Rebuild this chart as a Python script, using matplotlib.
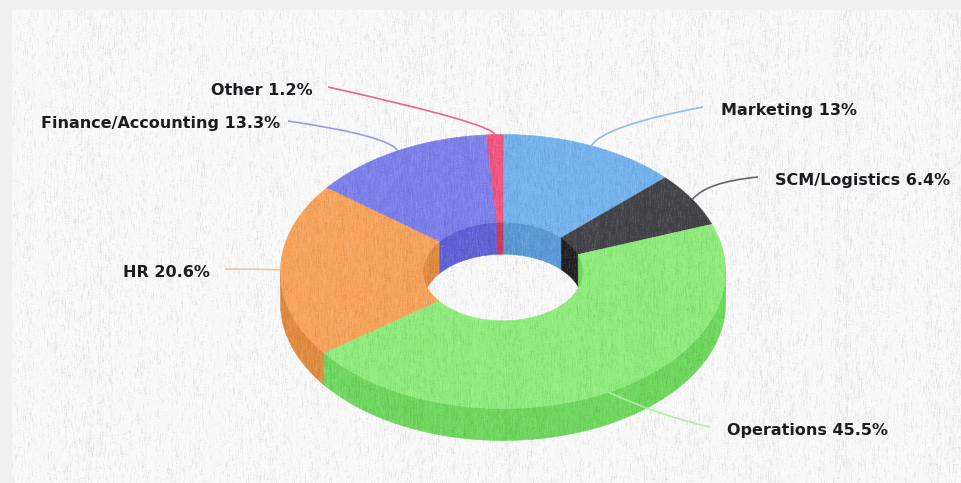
import numpy as np
import matplotlib
matplotlib.use("Agg")
import matplotlib.pyplot as plt
from matplotlib.patches import PathPatch, Rectangle
from matplotlib.path import Path

# Job function split
names = ["Marketing", "SCM/Logistics", "Operations", "HR", "Finance/Accounting", "Other"]
shares = [13, 6.4, 45.5, 20.6, 13.3, 1.2]

top_colors = ["#74b3ee", "#434348", "#8fec7c", "#f7a35c", "#7c80ea", "#f2557f"]
wall_colors = ["#5b9ad6", "#202024", "#6fd75e", "#e08b40", "#5f61d6", "#c93a60"]
line_colors = ["#8fbfe8", "#666668", "#b4eda6", "#f5c196", "#9a9dde", "#e8668a"]

# Pie geometry, in pixels
cx, cy = 503, 271.5
rx, ry = 222.5, 137
hole = 0.36
depth = 32

# Where each label sits: line end, line bend, text x, text y, alignment
line_ends = [(703, 107), (758, 177), (710, 427), (225, 269), (288, 121), (328, 87)]
line_bends = [(603, 126), (706, 182), (660, 416), (250, 269), (390, 136), (494, 124)]
text_pos = [(721, 115, "left"), (775, 185, "left"), (727, 435, "left"),
            (210, 277, "right"), (280, 128, "right"), (313, 95, "right")]


def arc(t1, t2, r, dz=0):
    # angles in degrees, clockwise from 12 o'clock
    t = np.radians(np.linspace(t1, t2, 120))
    return cx + rx * r * np.sin(t), cy - ry * r * np.cos(t) + dz


def band(ax, t1, t2, r, color, z):
    x1, y1 = arc(t1, t2, r)
    x2, y2 = arc(t2, t1, r, depth)
    ax.fill(np.r_[x1, x2], np.r_[y1, y2], color=color, lw=0.4, zorder=z)


fig = plt.figure(figsize=(9.61, 4.83), dpi=100, facecolor="#f1f1f1")
ax = fig.add_axes([0, 0, 1, 1])
ax.axis("off")

ax.add_patch(Rectangle((12, 10), 949, 473, fc="#f9f9f9", ec="none", zorder=0))

edges = np.r_[0, np.cumsum(shares)] / np.sum(shares) * 360

for i in range(len(shares)):
    a, b = edges[i], edges[i + 1]
    # outer wall shows on the front half only
    if max(a, 90) < min(b, 270):
        band(ax, max(a, 90), min(b, 270), 1, wall_colors[i], 2)
    # inner wall shows on the back half only
    if a < 90:
        band(ax, a, min(b, 90), hole, wall_colors[i], 1)
    if b > 270:
        band(ax, max(a, 270), b, hole, wall_colors[i], 1)

for i in range(len(shares)):
    a, b = edges[i], edges[i + 1]
    x1, y1 = arc(a, b, 1)
    x2, y2 = arc(b, a, hole)
    ax.fill(np.r_[x1, x2], np.r_[y1, y2], color=top_colors[i], lw=0.4, zorder=3)

# canvas grain over the whole panel, smeared along the vertical threads
rng = np.random.default_rng(7)
grain = rng.normal(size=(473, 949))
kernel = np.ones(6) / 6
grain = np.apply_along_axis(lambda c: np.convolve(c, kernel, mode="same"), 0, grain)
cross = rng.normal(size=(473, 949))
cross = np.apply_along_axis(lambda r: np.convolve(r, kernel[:3] * 2, mode="same"), 1, cross)
columns = np.convolve(rng.normal(size=949), np.ones(5) / 5, mode="same")
weave = grain * 1.7 + cross * 0.6 + columns[None, :] * 0.4
weave = np.clip(weave, -2.2, 2.2)
overlay = np.zeros(weave.shape + (4,))
overlay[..., :3] = (weave > 0)[..., None].astype(float)
overlay[..., 3] = np.abs(weave) * np.where(weave > 0, 0.06, 0.04)
ax.imshow(overlay, extent=(12, 961, 483, 10), aspect="auto", interpolation="bilinear", zorder=5)
ax.set_xlim(0, 961)
ax.set_ylim(483, 0)

for i in range(len(shares)):
    mid = np.radians((edges[i] + edges[i + 1]) / 2)
    start = (cx + rx * np.sin(mid), cy - ry * np.cos(mid))
    p = Path([line_ends[i], line_bends[i], start], [Path.MOVETO, Path.CURVE3, Path.CURVE3])
    ax.add_patch(PathPatch(p, fc="none", ec=line_colors[i], lw=1.2, zorder=6))
    tx, ty, ha = text_pos[i]
    label = f"{names[i]} {shares[i]:g}%"
    ax.text(tx, ty, label, ha=ha, va="baseline", fontsize=11.5, fontweight="bold",
            family="DejaVu Sans", color="#1c1c20", zorder=7)

fig.savefig("out.png", dpi=100, facecolor=fig.get_facecolor())
